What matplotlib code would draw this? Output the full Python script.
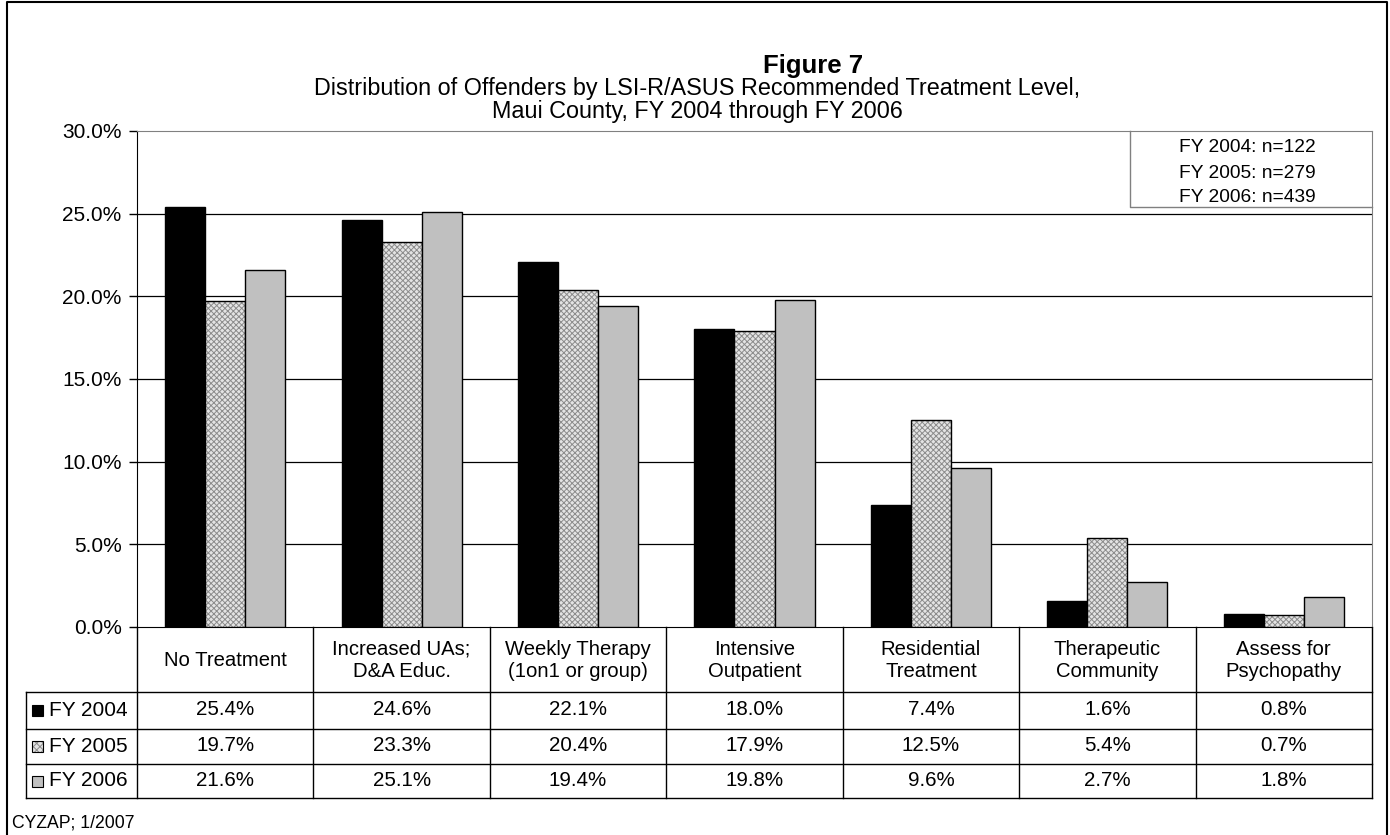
import matplotlib
matplotlib.use("Agg")
import matplotlib.pyplot as plt
import numpy as np
from matplotlib.patches import Rectangle

plt.rcParams['font.family'] = ['Liberation Sans', 'DejaVu Sans']
plt.rcParams['hatch.linewidth'] = 0.7

categories = ["No Treatment", "Increased UAs;\nD&A Educ.", "Weekly Therapy\n(1on1 or group)",
              "Intensive\nOutpatient", "Residential\nTreatment", "Therapeutic\nCommunity",
              "Assess for\nPsychopathy"]
series_names = ["FY 2004", "FY 2005", "FY 2006"]
fy2004 = [25.4, 24.6, 22.1, 18.0, 7.4, 1.6, 0.8]
fy2005 = [19.7, 23.3, 20.4, 17.9, 12.5, 5.4, 0.7]
fy2006 = [21.6, 25.1, 19.4, 19.8, 9.6, 2.7, 1.8]
sample_sizes = [122, 279, 439]
yticks = [0, 5, 10, 15, 20, 25, 30]

values = [fy2004, fy2005, fy2006]
styles = [dict(facecolor="black", hatch=None),
          dict(facecolor="#e4e4e4", hatch="xxxxxx"),
          dict(facecolor="#c0c0c0", hatch=None)]
dither_color = "#8c8c8c"

W, H = 1390, 835
fig = plt.figure(figsize=(W / 100, H / 100), dpi=100)

# pixel-space overlay for frame, table and notes
ov = fig.add_axes([0, 0, 1, 1], zorder=0)
ov.set_xlim(0, W)
ov.set_ylim(H, 0)
ov.axis("off")

# plot area (pixel bounds)
px0, px1, py0, py1 = 137, 1372, 131, 627
ax = fig.add_axes([px0 / W, 1 - py1 / H, (px1 - px0) / W, (py1 - py0) / H], zorder=1)
ax.patch.set_alpha(0)

n = len(categories)
x = np.arange(n)
bw = 0.227
for i, (vals, st) in enumerate(zip(values, styles)):
    bars = ax.bar(x + (i - 1) * bw, vals, width=bw, facecolor=st["facecolor"],
                  edgecolor="black", linewidth=1.0, hatch=st["hatch"], zorder=3)
    if st["hatch"]:
        for b in bars:
            b._hatch_color = matplotlib.colors.to_rgba(dither_color)

ax.set_xlim(-0.5, n - 0.5)
ax.set_ylim(0, 30)
ax.set_yticks(yticks)
ax.set_yticklabels([f"{t:.1f}%" for t in yticks], fontsize=15)
ax.tick_params(axis="y", length=6, width=1, pad=5)
ax.set_xticks([])
for t in yticks[1:-1]:
    ax.axhline(t, color="black", linewidth=0.9, zorder=1)
ax.spines["left"].set_color("black")
ax.spines["top"].set_color("#808080")
ax.spines["right"].set_color("#808080")
ax.spines["bottom"].set_color("black")

# title
ov.text(813, 66, "Figure 7", ha="center", va="center", fontsize=18.5, fontweight="bold")
ov.text(697, 100, "Distribution of Offenders by LSI-R/ASUS Recommended Treatment Level,\n"
        "Maui County, FY 2004 through FY 2006", ha="center", va="center", fontsize=16.8,
        linespacing=1.03)

# sample-size box
ov.plot([1130, 1130, 1372], [131, 207, 207], color="#808080", linewidth=1)
for k, (name, nn) in enumerate(zip(series_names, sample_sizes)):
    ov.text(1247, 148 + k * 25, f"{name}: n={nn}", ha="center", va="center", fontsize=13.8)

# data table
tx0, tx1 = 26, px1
row_y = [627, 692, 729, 764, 798]
colw = (px1 - px0) / n
lc = "black"
ov.plot([px0, px0], [row_y[0], row_y[-1]], color=lc, lw=1)
ov.plot([px1, px1], [row_y[0], row_y[-1]], color=lc, lw=1)
for j in range(1, n):
    xx = px0 + j * colw
    ov.plot([xx, xx], [row_y[0], row_y[-1]], color=lc, lw=1)
for yy in row_y[1:]:
    ov.plot([tx0, tx1], [yy, yy], color=lc, lw=1)
ov.plot([tx0, tx0], [row_y[1], row_y[-1]], color=lc, lw=1)

for j, cat in enumerate(categories):
    ov.text(px0 + (j + 0.5) * colw, (row_y[0] + row_y[1]) / 2 + 1, cat, ha="center",
            va="center", fontsize=14.6, linespacing=1.25)

for k, (name, vals, st) in enumerate(zip(series_names, values, styles)):
    yc = (row_y[k + 1] + row_y[k + 2]) / 2
    key = Rectangle((32, yc - 5.5), 11, 11, facecolor=st["facecolor"],
                    edgecolor="black", lw=0.8,
                    hatch="xxxxx" if st["hatch"] else None)
    if st["hatch"]:
        key._hatch_color = matplotlib.colors.to_rgba(dither_color)
    ov.add_patch(key)
    ov.text(49, yc, name, ha="left", va="center", fontsize=15)
    for j, v in enumerate(vals):
        ov.text(px0 + (j + 0.5) * colw, yc - 1, f"{v:.1f}%", ha="center", va="center",
                fontsize=14.8)

# source note and outer frame
ov.text(12, 823, "CYZAP; 1/2007", ha="left", va="center", fontsize=12.7)
ov.plot([7, 7, 1387, 1387], [H + 2, 2, 2, H + 2], color="black", lw=1.5)

fig.savefig("out.png", dpi=100)
